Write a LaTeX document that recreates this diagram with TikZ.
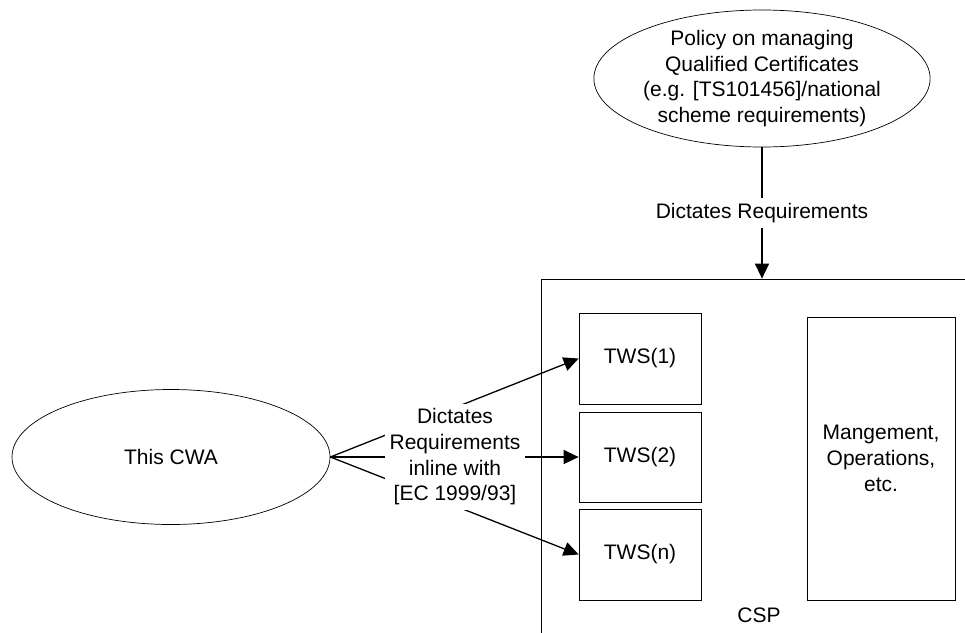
\documentclass[tikz,border=0pt]{standalone}
\usepackage{fontspec}
\setmainfont{Liberation Sans}
\usetikzlibrary{shapes.geometric,arrows.meta}

\begin{document}
\begin{tikzpicture}[x=1pt,y=1pt]
                \tikzstyle{every node}+=[font=\fontsize{21}{25.7}\selectfont, align=center]
                \tikzstyle{oval}=[draw=black, line width=0.7pt, ellipse, inner sep=0pt]
                \tikzstyle{box}=[draw=black, line width=0.7pt, inner sep=0pt]
                \tikzstyle{conn}=[draw=black, line width=1.3pt, -{Triangle[length=15pt,width=14pt]}]
                \tikzstyle{lbl}=[fill=white, inner sep=5pt]
                \useasboundingbox (0,0) rectangle (965,-632);
                \clip (0,0) rectangle (965,-632);
                \node [box, minimum width=442pt, minimum height=373pt] (csp) at (762,-465.5) {};
                \node (csplabel) at (759,-615) {CSP};
                \node [oval, minimum width=320pt, minimum height=137pt] (policy) at (762,-78.5) {Policy on managing\\Qualified Certificates\\(e.g. [TS101456]/national\\scheme requirements)};
                \node [oval, minimum width=318pt, minimum height=135pt] (cwa) at (171,-457) {This CWA};
                \node [box, minimum width=122pt, minimum height=91pt] (tws1) at (640,-358.5) {TWS(1)};
                \node [box, minimum width=122pt, minimum height=90pt] (tws2) at (640,-457) {TWS(2)};
                \node [box, minimum width=122pt, minimum height=91pt] (twsn) at (640,-554.5) {TWS(n)};
                \node [box, minimum width=148pt, minimum height=283pt] (mgmt) at (881,-458.5) {Mangement,\\Operations,\\etc.};
                \draw [conn] (policy.south) -- node [lbl] (dictreq) {Dictates Requirements} (policy.south |- csp.north);
                \draw [conn] (cwa.east) -- (tws1.west);
                \draw [conn] (cwa.east) -- (tws2.west);
                \draw [conn] (cwa.east) -- (twsn.west);
                \node [lbl] (inline) at (455,-457) {Dictates\\Requirements\\inline with\\{[EC 1999/93]}};
            \end{tikzpicture}
\end{document}
